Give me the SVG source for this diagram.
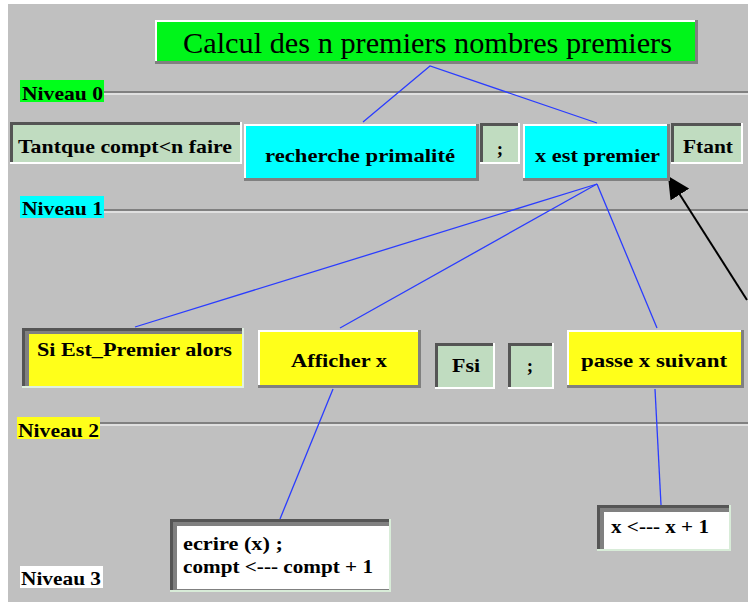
<svg xmlns="http://www.w3.org/2000/svg" width="748" height="602" viewBox="0 0 748 602">
<defs>
<style>
.t{font-family:"Liberation Serif","DejaVu Serif",serif;font-weight:bold;fill:#000;font-size:19px}
.ti{font-family:"Liberation Serif","DejaVu Serif",serif;fill:#000;font-size:30px}
.con{stroke:#2a3cff;stroke-width:1.3;fill:none}
.hl{fill:#fff}
.sh{fill:#808080}
.dk{fill:#555}
.g{fill:#c0dcc0}
.c{fill:#00ffff}
.y{fill:#ffff1a}
.w{fill:#fff}
.gl1{stroke:#808080;stroke-width:2}
.gl2{stroke:#fff;stroke-width:1}
</style>
<marker id="ah" viewBox="0 0 10 10" refX="10" refY="5" markerWidth="22" markerHeight="22" markerUnits="userSpaceOnUse" orient="auto">
<path d="M0,0 L10,5 L0,10 z" fill="#000"/>
</marker>
</defs>
<rect x="0" y="0" width="748" height="602" fill="#fff"/>
<rect x="8" y="4" width="740" height="598" fill="#c0c0c0"/>

<g id="levels">
<g id="niveau0">
<line class="gl1" x1="104" y1="92" x2="748" y2="92"/><line class="gl2" x1="104" y1="94" x2="748" y2="94"/>
<rect x="20" y="80" width="84" height="22" fill="#00ff1a"/>
<text class="t" x="22" y="100" textLength="81" lengthAdjust="spacingAndGlyphs">Niveau 0</text>
</g>
<g id="niveau1">
<line class="gl1" x1="104" y1="210" x2="748" y2="210"/><line class="gl2" x1="104" y1="212" x2="748" y2="212"/>
<rect x="20" y="196" width="84" height="22" fill="#00ffff"/>
<text class="t" x="22" y="215" textLength="81" lengthAdjust="spacingAndGlyphs">Niveau 1</text>
</g>
<g id="niveau2">
<line class="gl1" x1="100" y1="423" x2="748" y2="423"/><line class="gl2" x1="100" y1="425" x2="748" y2="425"/>
<rect x="17" y="417" width="83" height="22" fill="#ffff1a"/>
<text class="t" x="18" y="437" textLength="81" lengthAdjust="spacingAndGlyphs">Niveau 2</text>
</g>
<g id="niveau3">
<rect x="20" y="566" width="83" height="22" fill="#fff"/>
<text class="t" x="21" y="585" textLength="80" lengthAdjust="spacingAndGlyphs">Niveau 3</text>
</g>
</g>

<g id="connectors">
<polyline class="con" points="363,122 430,66 597,123"/>
<line class="con" x1="597" y1="184" x2="135" y2="327"/>
<line class="con" x1="597" y1="184" x2="340" y2="328"/>
<line class="con" x1="597" y1="184" x2="657" y2="328"/>
<line class="con" x1="333" y1="389" x2="280" y2="519"/>
<line class="con" x1="655" y1="389" x2="661" y2="505"/>
<line x1="747" y1="300" x2="668" y2="176" stroke="#000" stroke-width="2" marker-end="url(#ah)"/>
</g>

<g id="title">
<rect class="sh" x="155" y="20" width="543" height="44"/>
<rect class="hl" x="155" y="20" width="540" height="41"/>
<rect x="157" y="22" width="538" height="39" fill="#00f51a"/>
<text class="ti" x="183" y="53" textLength="489" lengthAdjust="spacingAndGlyphs">Calcul des n premiers nombres premiers</text>
</g>

<g id="tantque">
<rect class="hl" x="10" y="122" width="232" height="42"/>
<rect class="dk" x="10" y="122" width="230" height="40"/>
<rect class="g" x="13" y="125" width="227" height="37"/>
<text class="t" x="18" y="153" textLength="214" lengthAdjust="spacingAndGlyphs">Tantque compt&lt;n faire</text>
</g>

<g id="recherche">
<rect class="sh" x="244" y="124" width="235" height="57"/>
<rect class="hl" x="244" y="124" width="232" height="54"/>
<rect class="c" x="246" y="126" width="230" height="52"/>
<text class="t" x="265" y="162" textLength="190" lengthAdjust="spacingAndGlyphs">recherche primalité</text>
</g>

<g id="pv1">
<rect class="hl" x="480" y="123" width="40" height="41"/>
<rect class="dk" x="480" y="123" width="38" height="39"/>
<rect class="g" x="483" y="126" width="35" height="36"/>
<text class="t" x="500" y="155" text-anchor="middle">;</text>
</g>

<g id="xestpremier">
<rect class="sh" x="523" y="124" width="147" height="57"/>
<rect class="hl" x="523" y="124" width="144" height="54"/>
<rect class="c" x="525" y="126" width="142" height="52"/>
<text class="t" x="535" y="162" textLength="125" lengthAdjust="spacingAndGlyphs">x est premier</text>
</g>

<g id="ftant">
<rect class="hl" x="671" y="123" width="72" height="41"/>
<rect class="dk" x="671" y="123" width="70" height="39"/>
<rect class="g" x="674" y="126" width="67" height="36"/>
<text class="t" x="683" y="153" textLength="50" lengthAdjust="spacingAndGlyphs">Ftant</text>
</g>

<g id="si">
<rect x="22" y="328" width="222" height="60" fill="#e0f0e0"/>
<rect class="dk" x="22" y="328" width="220" height="58"/>
<rect class="sh" x="25" y="331" width="217" height="55"/>
<rect class="y" x="29" y="334" width="213" height="52"/>
<text class="t" x="37" y="356" textLength="195" lengthAdjust="spacingAndGlyphs">Si Est_Premier alors</text>
</g>

<g id="afficher">
<rect class="sh" x="258" y="330" width="163" height="58"/>
<rect class="hl" x="258" y="330" width="160" height="55"/>
<rect class="y" x="260" y="332" width="158" height="53"/>
<text class="t" x="291" y="367" textLength="96" lengthAdjust="spacingAndGlyphs">Afficher x</text>
</g>

<g id="fsi">
<rect class="hl" x="435" y="343" width="60" height="46"/>
<rect class="dk" x="435" y="343" width="58" height="44"/>
<rect class="g" x="438" y="346" width="55" height="41"/>
<text class="t" x="452" y="372" textLength="28" lengthAdjust="spacingAndGlyphs">Fsi</text>
</g>

<g id="pv2">
<rect class="hl" x="508" y="343" width="46" height="46"/>
<rect class="dk" x="508" y="343" width="44" height="44"/>
<rect class="g" x="511" y="346" width="41" height="41"/>
<text class="t" x="530" y="372" text-anchor="middle">;</text>
</g>

<g id="passe">
<rect class="sh" x="567" y="330" width="177" height="58"/>
<rect class="hl" x="567" y="330" width="174" height="55"/>
<rect class="y" x="569" y="332" width="172" height="53"/>
<text class="t" x="581" y="367" textLength="146" lengthAdjust="spacingAndGlyphs">passe x suivant</text>
</g>

<g id="ecrire">
<rect x="170" y="519" width="221" height="73" fill="#d8ecd8"/>
<rect class="dk" x="170" y="519" width="219" height="71"/>
<rect class="sh" x="173" y="522" width="216" height="68"/>
<rect class="w" x="177" y="526" width="212" height="63"/>
<text class="t" x="183" y="550" textLength="100" lengthAdjust="spacingAndGlyphs">ecrire (x) ;</text>
<text class="t" x="183" y="573" textLength="190" lengthAdjust="spacingAndGlyphs">compt &lt;--- compt + 1</text>
</g>

<g id="xplus1">
<rect x="597" y="505" width="134" height="46" fill="#d8ecd8"/>
<rect class="dk" x="597" y="505" width="132" height="44"/>
<rect class="sh" x="600" y="508" width="129" height="41"/>
<rect class="w" x="604" y="512" width="125" height="37"/>
<text class="t" x="611" y="533" textLength="98" lengthAdjust="spacingAndGlyphs">x &lt;--- x + 1</text>
</g>
</svg>
